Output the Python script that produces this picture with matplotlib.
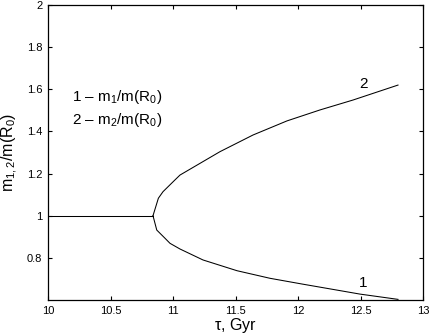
import matplotlib
matplotlib.use('Agg')
import matplotlib.pyplot as plt

# Data
tau_flat = [10.0, 10.84]
m_flat = [1.0, 1.0]

tau_up = [10.84, 10.883, 10.92, 11.016, 11.056, 11.376, 11.64, 11.912, 12.176, 12.44, 12.8]
m_up = [1.0, 1.083, 1.114, 1.17, 1.193, 1.304, 1.383, 1.45, 1.502, 1.549, 1.62]

tau_low = [10.84, 10.87, 10.936, 10.976, 11.056, 11.24, 11.512, 11.776, 12.04, 12.312, 12.496, 12.8]
m_low = [1.0, 0.932, 0.893, 0.869, 0.842, 0.79, 0.739, 0.703, 0.675, 0.647, 0.628, 0.603]

xticks = [10, 10.5, 11, 11.5, 12, 12.5, 13]
xticklabels = ['10', '10.5', '11', '11.5', '12', '12.5', '13']
yticks = [0.8, 1.0, 1.2, 1.4, 1.6, 1.8, 2.0]
yticklabels = ['0.8', '1', '1.2', '1.4', '1.6', '1.8', '2']

plt.rcParams['font.family'] = ['Liberation Sans', 'DejaVu Sans']
plt.rcParams['mathtext.fontset'] = 'custom'
plt.rcParams['mathtext.rm'] = 'Liberation Sans'
plt.rcParams['mathtext.it'] = 'Liberation Sans'

fig = plt.figure(figsize=(4.29, 3.35), dpi=100)
ax = fig.add_axes([48 / 429, 35 / 335, 375 / 429, 295 / 335])

ax.plot(tau_flat, m_flat, color='black', lw=0.75)
ax.plot(tau_up, m_up, color='black', lw=0.75)
ax.plot(tau_low, m_low, color='black', lw=0.75)

ax.set_xlim(10, 13)
ax.set_ylim(0.6, 2.0)
ax.set_xticks(xticks)
ax.set_xticklabels(xticklabels, fontsize=8)
ax.set_yticks(yticks)
ax.set_yticklabels(yticklabels, fontsize=8)
ax.tick_params(direction='in', top=True, right=True, length=3, width=0.8, pad=4)
for s in ax.spines.values():
    s.set_linewidth(0.9)

ax.set_xlabel(r'$\mathrm{\tau}$, Gyr', fontsize=11.5, labelpad=0)
ax.set_ylabel(r'm$_{1,2}$/m(R$_0$)', fontsize=11.5, labelpad=5)

ax.text(10.19, 1.563, r'1 – m$_1$/m(R$_0$)', fontsize=11, va='center')
ax.text(10.19, 1.454, r'2 – m$_2$/m(R$_0$)', fontsize=11, va='center')
ax.text(12.52, 1.625, '2', fontsize=11, ha='center', va='center')
ax.text(12.52, 0.68, '1', fontsize=11, ha='center', va='center')

fig.savefig('out.png', dpi=100)
